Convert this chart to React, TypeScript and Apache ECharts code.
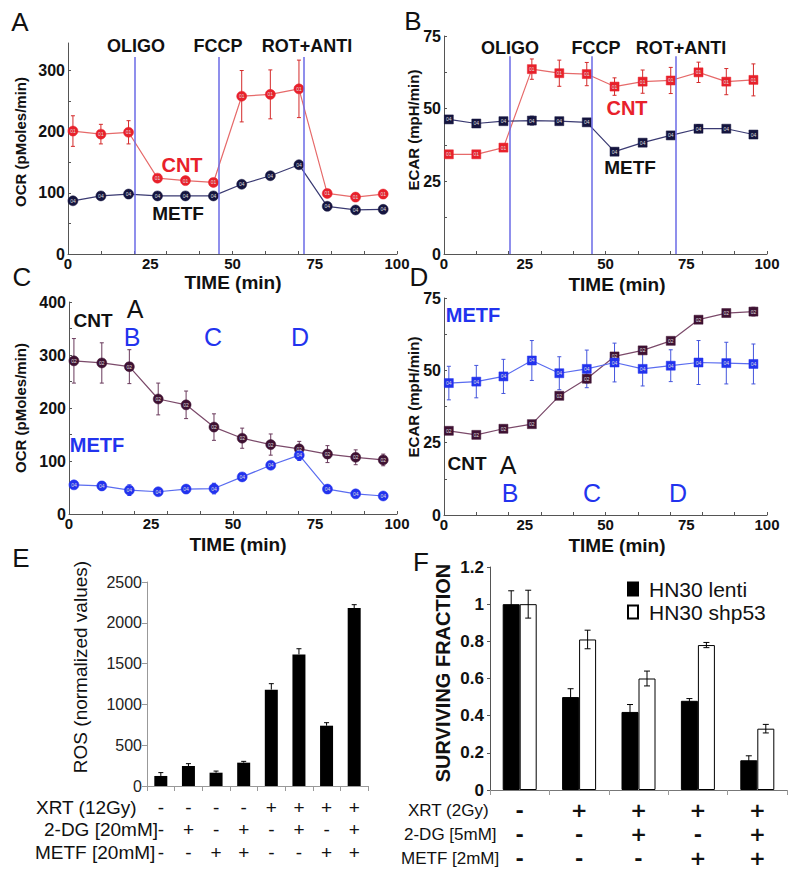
import React, { useEffect, useRef } from 'react';
import * as echarts from 'echarts';

const FONT = '"Liberation Sans", Arial, sans-serif';

// Seahorse time points (min) shared by panels A-D
const TIME = [1.5, 10, 18.4, 27.2, 35.7, 44.2, 52.8, 61.5, 70.2, 78.8, 87.4, 95.8];
const INJECTIONS = [20.3, 45.8, 71.6];
const INJECTION_LABELS = ['OLIGO', 'FCCP', 'ROT+ANTI'];
const TIME_TICKS = [0, 10, 20, 30, 40, 50, 60, 70, 80, 90, 100];
const TIME_LABELS = [0, 25, 50, 75, 100];

// Panel A – OCR
const OCR_A_CNT = [201, 196, 199, 124, 120, 117, 258, 261, 270, 99, 93, 98];
const OCR_A_CNT_ERR = [25, 16, 19, 4, 4, 4, 42, 40, 47, 4, 4, 4];
const OCR_A_METF = [87, 95, 98, 95, 95, 95, 114, 128, 146, 78, 72, 73];
const OCR_A_METF_ERR = [3, 3, 3, 3, 3, 3, 3, 3, 3, 3, 3, 3];
const OCR_A_LABELS = [0, 100, 200, 300];
const OCR_A_TICKS = [0, 50, 100, 150, 200, 250, 300];

// Panel B – ECAR
const ECAR_B_CNT = [34.3, 34.3, 36.6, 63.6, 62.2, 61.9, 57.6, 59.3, 59.7, 62.5, 59.3, 59.9];
const ECAR_B_CNT_ERR = [1, 1, 1, 3.5, 4.5, 4, 3, 4, 4.5, 3.5, 4.5, 5.5];
const ECAR_B_METF = [46.3, 44.9, 45.7, 45.9, 45.7, 45.3, 35.2, 38.3, 40.8, 43.1, 43.1, 41.1];
const ECAR_B_METF_ERR = [1, 0.8, 0.8, 1.5, 1.2, 1, 1.2, 1, 1.2, 1.4, 1, 1];
const ECAR_LABELS = [0, 25, 50, 75];
const ECAR_TICKS = [0, 12.5, 25, 37.5, 50, 62.5, 75];

// Panel C – OCR
const OCR_C_CNT = [289, 285, 278, 217, 206, 164, 143, 131, 123, 113, 107, 102];
const OCR_C_CNT_ERR = [42, 38, 32, 30, 26, 25, 19, 20, 14, 16, 14, 11];
const OCR_C_METF = [55, 53, 45, 42, 47, 48, 70, 92, 111, 47, 38, 34];
const OCR_C_METF_ERR = [6, 8, 10, 4, 5, 10, 5, 5, 10, 5, 4, 3];
const OCR_C_LABELS = [0, 100, 200, 300, 400];
const OCR_C_TICKS = [0, 50, 100, 150, 200, 250, 300, 350, 400];

// Panel D – ECAR
const ECAR_D_CNT = [29.1, 27.7, 29.8, 31.4, 41.2, 47.1, 54.8, 56.9, 60.2, 67.5, 69.8, 70.3];
const ECAR_D_CNT_ERR = [1.2, 1, 1.2, 1, 1, 1.5, 1, 1, 1, 1, 1, 1.5];
const ECAR_D_METF = [45.6, 46.1, 47.9, 53.4, 49.0, 50.5, 52.7, 50.5, 51.6, 52.7, 52.5, 52.2];
const ECAR_D_METF_ERR = [5.8, 5.6, 5.9, 6.9, 5.7, 6.5, 6.7, 5.9, 5.5, 7.6, 7.2, 6.9];

// Panel E – ROS
const XRT_E = ['-', '-', '-', '-', '+', '+', '+', '+'];
const DG_E = ['-', '+', '-', '+', '-', '+', '-', '+'];
const METF_E = ['-', '-', '+', '+', '-', '-', '+', '+'];
const ROS = [123, 245, 163, 286, 1181, 1613, 739, 2181];
const ROS_ERR = [41, 29, 20, 16, 73, 69, 37, 41];

// Panel F – surviving fraction
const XRT_F = ['-', '+', '+', '+', '+'];
const DG_F = ['-', '-', '+', '-', '+'];
const METF_F = ['-', '-', '-', '+', '+'];
const SF_LENTI = [1.0, 0.5, 0.42, 0.48, 0.16];
const SF_LENTI_ERR = [0.072, 0.045, 0.04, 0.012, 0.024];
const SF_SHP53 = [1.0, 0.81, 0.6, 0.78, 0.33];
const SF_SHP53_ERR = [0.075, 0.05, 0.04, 0.014, 0.023];

const RED = '#e8212b';
const NAVY = '#15153f';
const PURPLE = '#3f1233';
const BLUE = '#2233ee';
const VLINE = '#6a6ae6';

function timeX(gridIndex: number) {
  return {
    type: 'value', gridIndex, min: 0, max: 100,
    axisLine: { show: true, onZero: false, lineStyle: { color: '#555', width: 1 } },
    axisTick: { show: true, inside: true, length: 3, customValues: TIME_TICKS, lineStyle: { color: '#555' } },
    axisLabel: { customValues: TIME_LABELS, fontSize: 15, fontWeight: 'bold', color: '#111', fontFamily: FONT, margin: 2 },
    splitLine: { show: false },
  };
}

function valY(gridIndex: number, max: number, labels: number[], ticks: number[]) {
  return {
    type: 'value', gridIndex, min: 0, max,
    axisLine: { show: true, onZero: false, lineStyle: { color: '#555', width: 1 } },
    axisTick: { show: true, inside: true, length: 3, customValues: ticks, lineStyle: { color: '#555' } },
    axisLabel: { customValues: labels, fontSize: 16, fontWeight: 'bold', color: '#111', fontFamily: FONT, margin: 3 },
    splitLine: { show: false },
  };
}

function errorSeries(idx: number, xs: any[], ys: number[], errs: number[], color: string, cap: number, offset = 0, upOnly = false, z = 2) {
  return {
    type: 'custom', xAxisIndex: idx, yAxisIndex: idx, silent: true, z,
    data: xs.map((x, i) => [x, ys[i], errs[i]]),
    renderItem: (_p: any, api: any) => {
      const x = api.value(0), y = api.value(1), e = api.value(2);
      const lo = api.coord([x, upOnly ? y : y - e]);
      const hi = api.coord([x, y + e]);
      const cx = lo[0] + offset;
      const style = { stroke: color, lineWidth: 1 };
      const children: any[] = [
        { type: 'line', shape: { x1: cx, y1: lo[1], x2: cx, y2: hi[1] }, style },
        { type: 'line', shape: { x1: cx - cap, y1: hi[1], x2: cx + cap, y2: hi[1] }, style },
      ];
      if (!upOnly) children.push({ type: 'line', shape: { x1: cx - cap, y1: lo[1], x2: cx + cap, y2: lo[1] }, style });
      return { type: 'group', children };
    },
  };
}

function lineSeries(idx: number, ys: number[], symbol: string, markColor: string, lineColor: string, tag: string, size = 10) {
  return {
    type: 'line', xAxisIndex: idx, yAxisIndex: idx, z: 3,
    data: TIME.map((t, i) => [t, ys[i]]),
    symbol, symbolSize: size, showAllSymbol: true,
    lineStyle: { color: lineColor, width: 1.2 },
    itemStyle: { color: markColor, borderColor: markColor, borderWidth: 0.5 },
    label: { show: true, position: 'inside', formatter: tag, fontSize: 5, color: '#ddd', fontFamily: FONT },
  };
}

function injectionLines(idx: number, top: number) {
  return {
    type: 'line', xAxisIndex: idx, yAxisIndex: idx, data: [], z: 1,
    markLine: {
      silent: true, symbol: 'none', label: { show: false },
      lineStyle: { color: VLINE, width: 1.5, type: 'solid' },
      data: INJECTIONS.map((t) => [{ coord: [t, 0] }, { coord: [t, top] }]),
    },
  };
}

function txt(text: string, x: number, y: number, size: number, opts: any = {}) {
  return {
    type: 'text', x, y, rotation: opts.rotation || 0, z: 10,
    style: {
      text, fontSize: size, fontFamily: FONT, fontWeight: opts.bold ? 'bold' : 'normal',
      fill: opts.color || '#111', align: opts.align || 'center', verticalAlign: 'middle',
    },
  };
}

export default function App() {
  const ref = useRef<HTMLDivElement>(null);
  useEffect(() => {
    document.body.style.margin = '0';
    const chart = echarts.init(ref.current!, null, { renderer: 'svg' });

    const catE = XRT_E.map((v, i) => `${v}\n${DG_E[i]}\n${METF_E[i]}`);
    const catF = XRT_F.map((v, i) => `${v}\n${DG_F[i]}\n${METF_F[i]}`);

    const graphic: any[] = [
      txt('A', 20, 22, 26), txt('B', 413, 21, 26), txt('C', 22, 277, 26),
      txt('D', 419, 277, 26), txt('E', 21, 558, 26), txt('F', 421, 562, 26),
      // A
      ...INJECTION_LABELS.map((l, i) => txt(l, [136, 218, 307][i], 46, 18, { bold: true })),
      txt('CNT', 182, 165, 20, { bold: true, color: RED }),
      txt('METF', 178, 213, 19, { bold: true }),
      txt('TIME (min)', 233, 282, 19, { bold: true }),
      txt('OCR (pMoles/min)', 20, 142, 15, { bold: true, rotation: Math.PI / 2 }),
      // B
      ...INJECTION_LABELS.map((l, i) => txt(l, [510, 596, 681][i], 48, 18, { bold: true })),
      txt('CNT', 627, 108, 20, { bold: true, color: RED }),
      txt('METF', 630, 167, 19, { bold: true }),
      txt('TIME (min)', 617, 284, 19, { bold: true }),
      txt('ECAR (mpH/min)', 413, 130, 15, { bold: true, rotation: Math.PI / 2 }),
      // C
      txt('CNT', 93, 320, 19, { bold: true }),
      txt('A', 135, 309, 25),
      txt('B', 132, 337, 25, { color: BLUE }),
      txt('C', 213, 337, 25, { color: BLUE }),
      txt('D', 300, 337, 25, { color: BLUE }),
      txt('METF', 97, 445, 20, { bold: true, color: BLUE }),
      txt('TIME (min)', 238, 544, 19, { bold: true }),
      txt('OCR (pMoles/min)', 20, 408, 15, { bold: true, rotation: Math.PI / 2 }),
      // D
      txt('METF', 473, 315, 20, { bold: true, color: BLUE }),
      txt('CNT', 467, 463, 19, { bold: true }),
      txt('A', 508, 465, 25),
      txt('B', 510, 493, 25, { color: BLUE }),
      txt('C', 592, 493, 25, { color: BLUE }),
      txt('D', 678, 493, 25, { color: BLUE }),
      txt('TIME (min)', 617, 545, 19, { bold: true }),
      txt('ECAR (mpH/min)', 413, 397, 15, { bold: true, rotation: Math.PI / 2 }),
      // E
      txt('ROS (normalized values)', 80, 667, 19, { rotation: Math.PI / 2 }),
      txt('XRT (12Gy)', 36, 807, 19, { align: 'left' }),
      txt('2-DG [20mM]', 44, 829, 19, { align: 'left' }),
      txt('METF [20mM]', 35, 852, 19, { align: 'left' }),
      // F
      txt('SURVIVING FRACTION', 443, 673, 20, { bold: true, rotation: Math.PI / 2 }),
      txt('XRT (2Gy)', 408, 810, 17, { align: 'left' }),
      txt('2-DG [5mM]', 404, 834, 17, { align: 'left' }),
      txt('METF [2mM]', 401, 858, 17, { align: 'left' }),
    ];

    const catAxisBase = {
      type: 'category',
      axisLine: { show: true, lineStyle: { color: '#999' } },
      axisTick: { show: true, alignWithLabel: false, length: 5, lineStyle: { color: '#999' } },
      splitLine: { show: false },
    };

    const option: any = {
      animation: false,
      backgroundColor: '#fff',
      grid: [
        { left: 68, top: 43, width: 329, height: 211 },
        { left: 444, top: 36, width: 323, height: 218 },
        { left: 69, top: 302, width: 328, height: 212 },
        { left: 444, top: 298, width: 323, height: 217 },
        { left: 147, top: 582, width: 221, height: 204 },
        { left: 490, top: 567, width: 297, height: 223 },
      ],
      xAxis: [
        timeX(0), timeX(1), timeX(2), timeX(3),
        {
          ...catAxisBase, gridIndex: 4, data: catE,
          axisLabel: { interval: 0, fontSize: 19, lineHeight: 22.5, color: '#111', fontFamily: FONT, margin: 10 },
        },
        {
          ...catAxisBase, gridIndex: 5, data: catF,
          axisLine: { show: true, lineStyle: { color: '#777' } },
          axisLabel: { interval: 0, fontSize: 20, fontWeight: 'bold', lineHeight: 24, color: '#111', fontFamily: '"DejaVu Sans", sans-serif', margin: 8 },
        },
      ],
      yAxis: [
        valY(0, 345, OCR_A_LABELS, OCR_A_TICKS),
        valY(1, 75, ECAR_LABELS, ECAR_TICKS),
        valY(2, 400, OCR_C_LABELS, OCR_C_TICKS),
        valY(3, 75, ECAR_LABELS, ECAR_TICKS),
        {
          type: 'value', gridIndex: 4, min: 0, max: 2500, interval: 500,
          axisLine: { show: true, lineStyle: { color: '#999' } },
          axisTick: { show: true, length: 5, lineStyle: { color: '#999' } },
          axisLabel: { fontSize: 16, color: '#222', fontFamily: FONT, margin: 5, formatter: (v: number) => String(v) },
          splitLine: { show: false },
        },
        {
          type: 'value', gridIndex: 5, min: 0, max: 1.2, interval: 0.2,
          axisLine: { show: true, lineStyle: { color: '#555' } },
          axisTick: { show: true, length: 3, lineStyle: { color: '#555' } },
          axisLabel: { fontSize: 17, fontWeight: 'bold', color: '#111', fontFamily: FONT, margin: 6 },
          splitLine: { show: false },
        },
      ],
      legend: {
        orient: 'vertical', left: 622, top: 573, itemWidth: 10, itemHeight: 13, itemGap: 1,
        icon: 'rect',
        textStyle: { fontSize: 21, fontFamily: FONT, color: '#111', lineHeight: 22, padding: [0, 0, 0, 6] },
        data: ['HN30 lenti', 'HN30 shp53'],
      },
      graphic,
      series: [
        // A
        injectionLines(0, 322),
        errorSeries(0, TIME, OCR_A_CNT, OCR_A_CNT_ERR, '#d42a2a', 2),
        errorSeries(0, TIME, OCR_A_METF, OCR_A_METF_ERR, NAVY, 2),
        lineSeries(0, OCR_A_CNT, 'circle', RED, '#e66a6a', '01'),
        lineSeries(0, OCR_A_METF, 'circle', NAVY, '#3a3a72', '04'),
        // B
        injectionLines(1, 68),
        errorSeries(1, TIME, ECAR_B_CNT, ECAR_B_CNT_ERR, '#d42a2a', 2),
        errorSeries(1, TIME, ECAR_B_METF, ECAR_B_METF_ERR, NAVY, 2),
        lineSeries(1, ECAR_B_CNT, 'rect', RED, '#e66a6a', '01', 9),
        lineSeries(1, ECAR_B_METF, 'rect', NAVY, '#3a3a72', '04', 9),
        // C
        errorSeries(2, TIME, OCR_C_CNT, OCR_C_CNT_ERR, '#6a3a5c', 2),
        errorSeries(2, TIME, OCR_C_METF, OCR_C_METF_ERR, BLUE, 2),
        lineSeries(2, OCR_C_CNT, 'circle', PURPLE, '#7b4a6a', '02'),
        lineSeries(2, OCR_C_METF, 'circle', BLUE, '#5a6cf0', '04'),
        // D
        errorSeries(3, TIME, ECAR_D_CNT, ECAR_D_CNT_ERR, '#6a3a5c', 2),
        errorSeries(3, TIME, ECAR_D_METF, ECAR_D_METF_ERR, '#4455dd', 2),
        lineSeries(3, ECAR_D_CNT, 'rect', PURPLE, '#7b4a6a', '02', 9),
        lineSeries(3, ECAR_D_METF, 'rect', BLUE, '#5a6cf0', '04', 9),
        // E
        {
          type: 'bar', name: 'ROS', xAxisIndex: 4, yAxisIndex: 4, data: ROS, barWidth: 13,
          itemStyle: { color: '#000' },
        },
        errorSeries(4, ROS.map((_, i) => i), ROS, ROS_ERR, '#000', 2.5, 0, true, 4),
        // F
        {
          type: 'bar', name: 'HN30 lenti', xAxisIndex: 5, yAxisIndex: 5, data: SF_LENTI,
          barWidth: 17, barGap: '0%', itemStyle: { color: '#000', borderColor: '#000', borderWidth: 1 },
        },
        {
          type: 'bar', name: 'HN30 shp53', xAxisIndex: 5, yAxisIndex: 5, data: SF_SHP53,
          barWidth: 17, barGap: '0%', itemStyle: { color: '#fff', borderColor: '#000', borderWidth: 1 },
        },
        errorSeries(5, SF_LENTI.map((_, i) => i), SF_LENTI, SF_LENTI_ERR, '#000', 3, -8.5, false, 4),
        errorSeries(5, SF_SHP53.map((_, i) => i), SF_SHP53, SF_SHP53_ERR, '#000', 3, 8.5, false, 4),
      ],
    };
    chart.setOption(option);
    return () => chart.dispose();
  }, []);
  return <div ref={ref} style={{ width: 800, height: 878 }} />;
}
